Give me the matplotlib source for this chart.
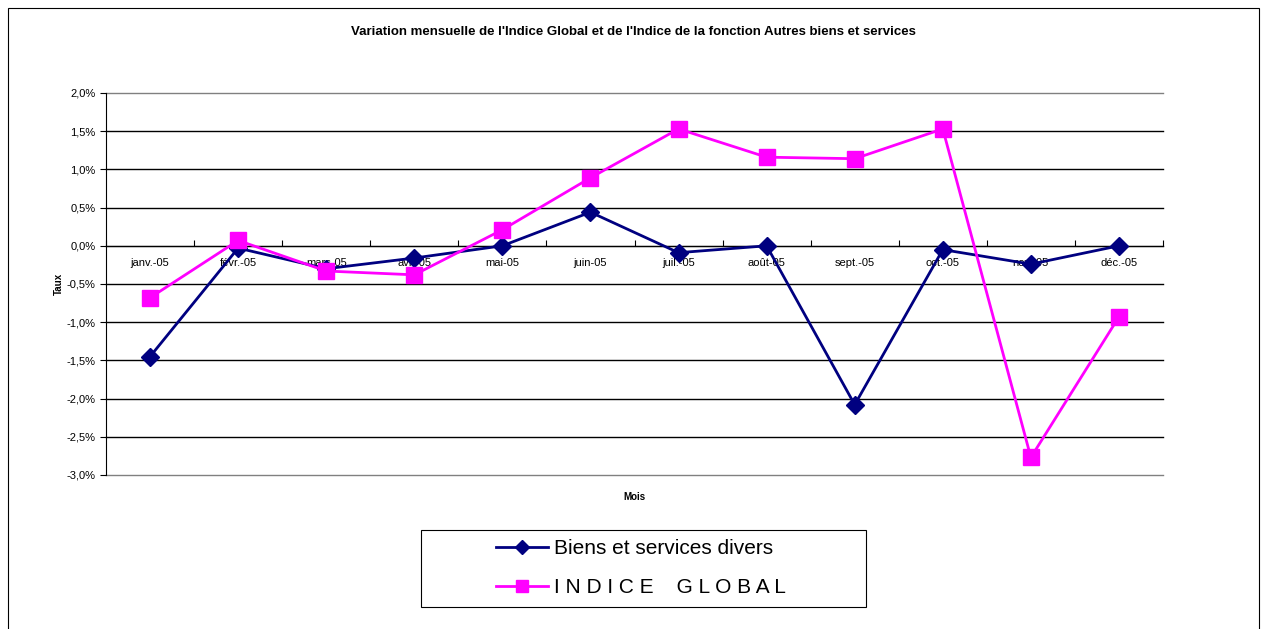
import matplotlib
matplotlib.use('Agg')
import matplotlib.pyplot as plt
from matplotlib.patches import Rectangle
from matplotlib.ticker import FuncFormatter, MultipleLocator

mois = ['janv.-05', 'févr.-05', 'mars-05', 'avr.-05', 'mai-05', 'juin-05',
        'juil.-05', 'août-05', 'sept.-05', 'oct.-05', 'nov.-05', 'déc.-05']
biens_services = [-1.45, -0.03, -0.30, -0.16, 0.00, 0.44,
                  -0.09, 0.00, -2.08, -0.05, -0.24, 0.00]
indice_global = [-0.68, 0.07, -0.33, -0.38, 0.21, 0.89,
                 1.53, 1.16, 1.14, 1.53, -2.77, -0.93]

plt.rcParams['font.family'] = ['Liberation Sans', 'DejaVu Sans']

W, H = 1266, 629
fig = plt.figure(figsize=(W / 100, H / 100), dpi=100)
ax = fig.add_axes([106 / W, 1 - 475 / H, (1163 - 106) / W, (475 - 93) / H])

x = list(range(len(mois)))

# grille horizontale
for v in [i * 0.5 for i in range(-6, 5)]:
    col = '#808080' if v in (2.0, -3.0) else 'black'
    ax.axhline(v, color=col, lw=1.0, zorder=1, clip_on=False)

ax.plot(x, biens_services, color='#000080', lw=2.0, marker='D', markersize=9,
        label='Biens et services divers', zorder=3)
ax.plot(x, indice_global, color='#FF00FF', lw=2.0, marker='s', markersize=11,
        label='I N D I C E    G L O B A L', zorder=3)

ax.set_xlim(-0.5, len(mois) - 0.5)
ax.set_ylim(-3.0, 2.0)

ax.spines['top'].set_visible(False)
ax.spines['right'].set_visible(False)
ax.spines['bottom'].set_position(('data', 0))
ax.spines['bottom'].set_color('black')
ax.spines['left'].set_color('black')

ax.yaxis.set_major_locator(MultipleLocator(0.5))
ax.yaxis.set_major_formatter(FuncFormatter(lambda v, p: f'{v:.1f}%'.replace('.', ',')))
ax.tick_params(axis='y', labelsize=8, length=4, direction='out', color='black')

ax.set_xticks([i + 0.5 for i in range(-1, len(mois))])
ax.set_xticklabels([])
ax.set_xticks(x, minor=True)
ax.set_xticklabels(mois, minor=True)
ax.tick_params(axis='x', which='major', length=4, direction='in', color='black')
ax.tick_params(axis='x', which='minor', length=0, labelsize=8, pad=9)

ax.set_ylabel('Taux', fontsize=7, fontweight='bold', labelpad=2)
ax.text(0.5, -0.045, 'Mois', transform=ax.transAxes, ha='center', va='top',
        fontsize=7, fontweight='bold')

fig.text(0.5, 1 - 32 / H, "Variation mensuelle de l'Indice Global et de l'Indice de la fonction Autres biens et services",
         ha='center', va='center', fontsize=9.5, fontweight='bold')

# légende sans cadre + cadre dessiné à part
fig.legend(loc='center', bbox_to_anchor=(641 / W, 1 - 568 / H),
           fontsize=15, frameon=False, handlelength=2.5, handletextpad=0.3,
           markerscale=0.8, labelspacing=0.95, borderaxespad=0)
fig.patches.append(Rectangle((421 / W, 1 - 607 / H), (866 - 421) / W, (607 - 530) / H,
                             transform=fig.transFigure, fill=False,
                             edgecolor='black', lw=0.8))

# cadre extérieur
fig.patches.append(Rectangle((8 / W, -0.1), (1259 - 8) / W, 1.1 - 8 / H,
                             transform=fig.transFigure, fill=False,
                             edgecolor='black', lw=0.8))

fig.savefig('out.png', dpi=100)
